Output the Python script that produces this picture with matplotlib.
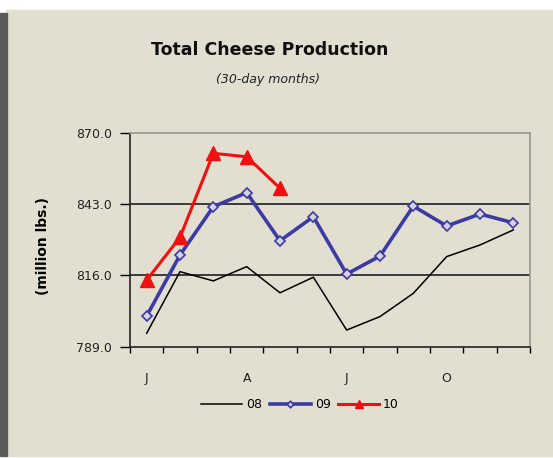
import numpy as np
import matplotlib.pyplot as plt

# monthly cheese production, million lbs (30-day months)
months = ['J', 'F', 'M', 'A', 'M', 'J', 'J', 'A', 'S', 'O', 'N', 'D']
prod_08 = [794.1, 817.4, 813.9, 819.3, 809.4, 815.3, 795.3, 800.4, 809.2, 823.1, 827.5, 833.2]
prod_09 = [800.6, 823.7, 842.0, 847.3, 829.1, 838.2, 816.5, 823.3, 842.2, 834.7, 839.2, 835.9]
prod_10 = [814.2, 830.4, 862.2, 860.9, 849.0]
y_ticks = [789.0, 816.0, 843.0, 870.0]

bg = '#e2ded0'
fig = plt.figure(figsize=(5.53, 4.58), dpi=100, facecolor='white')

# beige panel with dark strip on the left
fig.patches.append(plt.Rectangle((6 / 553, 2 / 458), 547 / 553, 446 / 458,
                                 transform=fig.transFigure, color=bg, zorder=-10))
fig.patches.append(plt.Rectangle((0, 2 / 458), 7 / 553, 443 / 458,
                                 transform=fig.transFigure, color='#5a5a5a', zorder=-9))

ax = fig.add_axes([130 / 553, 1 - 346.7 / 458, 400 / 553, 214 / 458])
ax.set_zorder(2)
ax.set_facecolor(bg)

x = np.arange(len(months))
ax.plot(x, prod_08, color='black', lw=1.1, label='08')
ax.plot(x, prod_09, color='#3b3ba3', lw=2.6, marker='D', ms=5.5,
        mfc='#d6d2e0', mec='#3b3ba3', mew=1.2, label='09')
ax.plot(x[:len(prod_10)], prod_10, color='#f01010', lw=2.2, marker='^', ms=10,
        mfc='#f01010', mec='#f01010', label='10')

for v in y_ticks[1:3]:
    ax.axhline(v, color='#3a3a3a', lw=1.4, zorder=0.5)

ax.set_xlim(-0.5, 11.5)
ax.set_ylim(789, 870)
ax.set_yticks(y_ticks)
ax.set_yticklabels([f'{v:.1f}' for v in y_ticks], fontsize=9, color='#222222')
ax.tick_params(axis='y', direction='out', length=7, width=1, pad=6)

ax.set_xticks(x[::3])
ax.set_xticklabels(months[::3], fontsize=9, color='#222222')
ax.set_xticks(np.arange(-0.5, 12, 1), minor=True)
ax.tick_params(axis='x', which='major', length=0, pad=18)
ax.tick_params(axis='x', which='minor', direction='out', length=4, width=1)

for s in ['left', 'bottom']:
    ax.spines[s].set_color('#222222')
    ax.spines[s].set_linewidth(1.2)
for s in ['top', 'right']:
    ax.spines[s].set_color('#9a978c')
    ax.spines[s].set_linewidth(1.2)

ax.set_ylabel('(million lbs.)', fontsize=10, fontweight='bold')
ax.yaxis.set_label_coords(-0.2, 0.47)

fig.text(0.488, 1 - 50 / 458, 'Total Cheese Production', ha='center', va='center',
         fontsize=12.5, fontweight='bold', color='#111111')
fig.text(0.485, 1 - 80 / 458, '(30-day months)', ha='center', va='center',
         fontsize=9, style='italic', color='#222222')

fig.legend(loc='center', bbox_to_anchor=(300 / 553, 1 - 405 / 458), ncol=3,
           frameon=False, fontsize=9, handlelength=3.3, handletextpad=0.3,
           columnspacing=0.6, markerscale=0.6)

fig.savefig('out.png', dpi=100, facecolor='white')
